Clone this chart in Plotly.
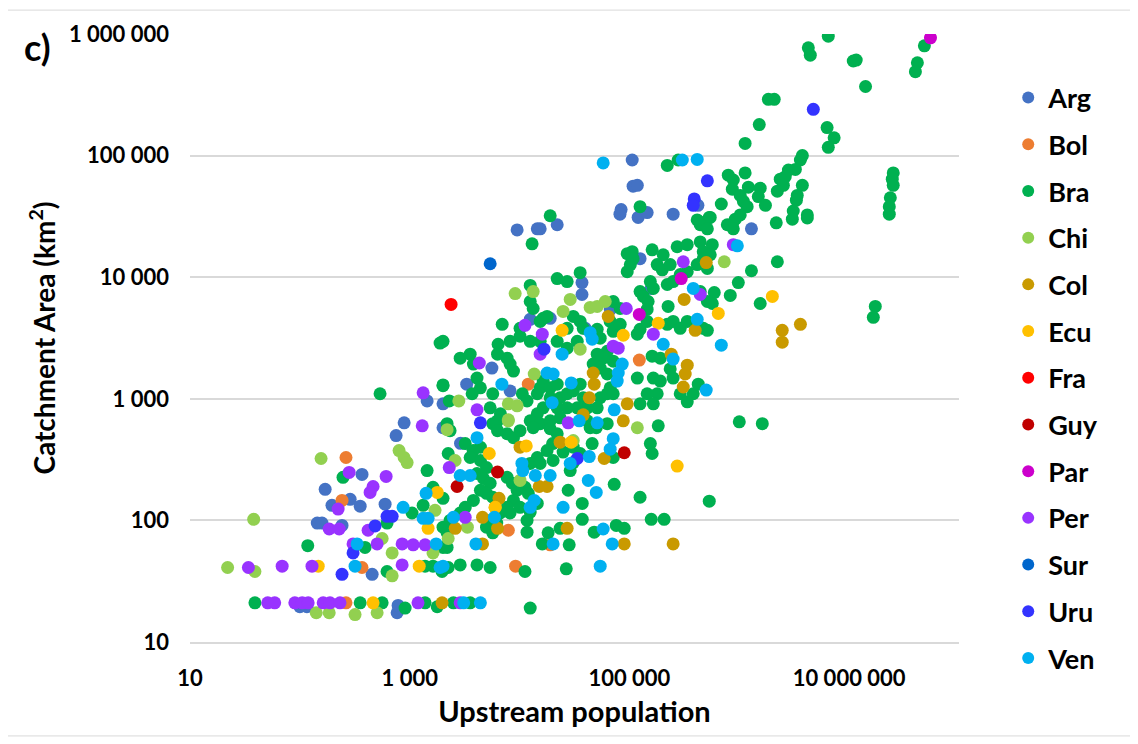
import plotly.graph_objects as go

# ---- data: (upstream population, catchment area km2) per country ----
COUNTRIES = ["Arg", "Bol", "Bra", "Chi", "Col", "Ecu", "Fra", "Guy", "Par", "Per", "Sur", "Uru", "Ven"]
COLORS = ["#4472C4", "#ED7D31", "#00B050", "#92D050", "#C99A00", "#FFC000", "#FF0000",
          "#C00000", "#CC00CC", "#9933FF", "#0066CC", "#3333FF", "#00B0F0"]

ARG = [(1.06e5, 9.2e4), (1.08e5, 5.6e4), (1.18e5, 5.7e4), (8.4e4, 3.6e4), (8.2e4, 3.3e4), (1.2e5, 3.1e4),
       (1.45e5, 3.4e4), (2.5e5, 3.3e4), (4.2e5, 3.9e4), (1.29e6, 2.5e4), (2.2e4, 2.7e4), (9500, 2.45e4),
       (1.45e4, 2.5e4), (1.54e4, 2.5e4), (3.7e4, 9040), (3.7e4, 7210), (6.7e4, 5430), (3300, 1320),
       (2900, 430), (1440, 960), (2010, 910), (890, 635), (2010, 578), (752, 498), (368, 239), (170, 180),
       (196, 133), (287, 149), (354, 131), (597, 136), (144, 95), (159, 95), (242, 91), (455, 36),
       (100, 19.5), (116, 19.5), (768, 17.4), (784, 20), (1.25e5, 1.42e4), (1.58e5, 8080), (3.96e4, 3800),
       (1.9e4, 4590), (1.25e4, 4500), (5600, 1790), (8200, 1160)]
BOL = [(263, 329), (242, 146), (368, 41), (263, 21), (1.23e5, 2080), (1.2e4, 1320), (7900, 83), (9200, 42),
       (1.9e4, 63)]
BRA = [(6.46e6, 9.6e5), (4.84e7, 8.0e5), (4.18e7, 5.8e5), (4.01e7, 4.9e5), (4.25e6, 7.7e5), (4.43e6, 6.7e5),
       (1.16e7, 6.1e5), (1.09e7, 6.0e5), (1.41e7, 3.7e5), (1.84e6, 2.9e5), (2.08e6, 2.9e5), (1.52e6, 1.8e5),
       (1.13e6, 1.26e5), (6.3e6, 1.7e5), (7.3e6, 1.4e5), (6.46e6, 1.17e5), (3.75e6, 1.0e5), (3.6e6, 9.2e4),
       (3.24e6, 7.7e4), (2.8e6, 7.6e4), (2.62e6, 6.7e4), (2.36e6, 6.4e4), (2.52e6, 5.7e4), (2.22e6, 5.1e4),
       (3.75e6, 5.7e4), (3.37e6, 4.7e4), (3.31e6, 4.3e4), (3.1e6, 3.5e4), (3.04e6, 3.0e4), (4.16e6, 3.25e4),
       (4.16e6, 3.07e4), (2.17e6, 2.8e4),
       (2.52e7, 7.2e4), (2.47e7, 6.4e4), (2.52e7, 5.7e4), (2.37e7, 4.5e4), (2.32e7, 3.8e4), (2.32e7, 3.3e4),
       (1.13e6, 7.2e4), (7.94e5, 6.9e4), (8.82e5, 6.3e4), (8.64e5, 5.3e4), (1.02e6, 4.7e4), (1.09e6, 4.2e4),
       (1.18e6, 3.8e4), (1.21e6, 5.5e4), (1.55e6, 5.4e4), (1.49e6, 4.6e4), (1.73e6, 3.9e4), (6.86e5, 4.0e4),
       (5.44e5, 3.1e4), (9.2e5, 3.0e4), (8.64e5, 2.74e4), (1.02e6, 3.25e4),
       (2.21e5, 8.3e4), (2.78e5, 9.2e4), (1.25e5, 3.8e4), (4.14e5, 2.96e4), (4.9e5, 2.85e4), (5.33e5, 3.1e4),
       (1.9e4, 3.2e4), (1.3e4, 1.88e4),
       (2.22e6, 1.34e4), (1.29e6, 1.13e4), (9.8e5, 9040), (5.92e5, 7480), (5.68e5, 6080), (8.28e5, 7080),
       (1.55e6, 6080), (5.12e5, 3660), (1.73e7, 5750), (1.66e7, 4680), (1.0e6, 647), (1.62e6, 624),
       (4.41e5, 2.7e4), (5.12e5, 2.5e4), (7.78e5, 2.7e4), (8.82e5, 2.5e4), (4.41e5, 1.95e4), (5.68e5, 1.85e4),
       (4.7e5, 1.62e4), (5.44e5, 1.53e4),
       (9.55e4, 1.56e4), (1.06e5, 1.62e4), (1.08e5, 1.42e4), (1.02e5, 1.27e4), (9.55e4, 1.11e4),
       (1.61e5, 1.68e4), (2.03e5, 1.53e4), (1.79e5, 1.27e4), (1.99e5, 1.15e4), (2.35e5, 1.27e4),
       (2.72e5, 1.78e4), (3.36e5, 1.85e4), (4.7e5, 1.42e4), (4.14e5, 1.27e4), (5.12e5, 1.18e4),
       (1.25e5, 7620), (1.34e5, 6950), (1.55e5, 9200), (1.65e5, 8080), (2.21e5, 8710), (2.5e5, 9200),
       (2.9e5, 1.05e4), (3.36e5, 1.11e4),
       (1.18e5, 3400), (1.25e5, 3730), (1.45e5, 4330), (2.21e5, 4100), (2.5e5, 4330), (2.9e5, 3800),
       (3.36e5, 4330), (4.7e5, 3800), (1.45e5, 5430), (1.48e5, 6310), (2.25e5, 5750), (1.61e5, 2240),
       (1.91e5, 2160), (2.35e5, 1760), (4.41e5, 7620), (5.12e5, 6310),
       (7.12e4, 6310), (8.24e4, 5530), (6.68e4, 4330), (7.12e4, 3590), (8.24e4, 4100), (3.08e4, 4760),
       (3.56e4, 4330), (2.71e4, 3800), (3.8e4, 3800), (5.09e4, 3730), (2.2e4, 9750), (2.71e4, 9200),
       (3.56e4, 1.09e4), (1.25e4, 8550), (1.25e4, 6310), (1.33e4, 5530), (1.54e4, 4330), (1.64e4, 4590),
       (1.78e4, 4760), (6950, 4100), (1.01e4, 3800), (1.01e4, 3270), (6380, 2810), (8200, 2970),
       (1.25e4, 2970), (1.54e4, 2970), (2.2e4, 2970), (2.71e4, 2610), (3.35e4, 2970), (5.42e4, 3150),
       (6.28e4, 2460), (7.12e4, 2040), (5.77e4, 2160), (5.09e4, 2330), (4.68e4, 1930), (5.42e4, 1790),
       (6.28e4, 1600),
       (2880, 2160), (3550, 2330), (3800, 1930), (4100, 1480), (4400, 1230), (3700, 1100), (2010, 1280),
       (2010, 2970), (5700, 1100), (5400, 843), (6700, 752), (6300, 659), (8200, 1930), (8800, 1690),
       (7700, 2160), (6300, 2330),
       (1.06e4, 1100), (1.17e4, 960), (1.45e4, 1100), (1.54e4, 1230), (1.64e4, 1400), (1.9e4, 1230),
       (2.2e4, 1320), (1.9e4, 1020), (2.34e4, 1020), (2.71e4, 1100), (3.08e4, 1160), (3.56e4, 1320),
       (3.8e4, 1020), (4.13e4, 843), (3.35e4, 843), (2.71e4, 843), (2.2e4, 843), (1.64e4, 843),
       (1.45e4, 752), (1.25e4, 659), (1.54e4, 624), (1.9e4, 659), (2.34e4, 698), (5.42e4, 1020),
       (5.09e4, 843), (6.28e4, 1100), (6.68e4, 1230), (7.12e4, 1100),
       (1.65e5, 1480), (1.79e5, 1100), (1.45e5, 1100), (1.25e5, 910), (1.65e5, 910), (1.91e5, 1400),
       (2.5e5, 1480), (1.18e5, 1480), (2.9e5, 1100), (3.81e5, 1100), (4.23e5, 1320), (3.36e5, 944),
       (1.83e5, 600), (5700, 624), (6300, 547), (4.13e4, 659), (4.39e4, 578), (2190, 624), (2330, 547),
       (3200, 428), (3780, 375), (4400, 400), (3550, 329), (4400, 311), (5000, 272), (4100, 243),
       (4700, 221), (5400, 202), (4400, 177), (5000, 167), (5700, 155), (3800, 146), (3200, 128),
       (2880, 115), (2330, 100), (2010, 88), (2190, 79), (2010, 60), (7700, 516), (8800, 479),
       (1.01e4, 547), (1.33e4, 578), (1.9e4, 567), (2.2e4, 516), (2.0e4, 428), (1.78e4, 375),
       (1.45e4, 329), (1.25e4, 294), (1.54e4, 294), (2.02e4, 311), (2.49e4, 365), (3.08e4, 400),
       (7700, 226), (8600, 202), (9500, 177), (8800, 146), (1.01e4, 128), (7700, 128), (8200, 115),
       (6660, 115), (5400, 100), (6200, 95), (5700, 79), (5000, 88), (1.12e4, 187), (1.2e4, 167),
       (1.45e4, 138), (1.25e4, 117), (1.17e4, 100), (2.89e4, 257), (3.08e4, 299), (3.56e4, 355),
       (2.77e4, 177), (3.72e4, 138), (3.72e4, 102), (2.83e4, 63), (2.66e4, 40), (4.58e4, 428),
       (4.99e4, 578), (6.28e4, 624), (7.12e4, 329), (1.55e5, 428), (1.61e5, 355), (1.17e4, 80),
       (1.61e4, 64), (1.82e4, 79), (2.34e4, 86), (4.78e4, 80), (7.59e4, 91), (8.97e4, 86), (1.58e5, 102),
       (2.07e5, 102), (1.25e5, 155), (7.27e4, 198), (5.33e5, 144), (2880, 43), (4100, 43), (5400, 41),
       (1.12e4, 38), (2500, 21), (3550, 21), (1.25e4, 19),
       (247, 226), (118, 62), (392, 60), (622, 38), (622, 95), (1325, 133), (1050, 115), (1440, 257),
       (1630, 187), (2010, 152), (2240, 355), (2330, 88), (2190, 60), (1970, 38), (2240, 41), (1380, 42),
       (1630, 42), (39, 21), (354, 21), (561, 21), (1380, 21), (1780, 19.5), (908, 19),
       (537, 1100), (1890, 2870), (2010, 1300), (2290, 960)]
CHI = [(38, 102), (22, 41), (39, 38), (156, 323), (800, 375), (889, 329), (947, 299), (2190, 557), (1700, 121),
       (561, 71), (692, 54), (1630, 54), (692, 35), (141, 17.4), (185, 17.4), (318, 16.8), (505, 17.4),
       (9120, 7340), (1.33e4, 7620), (2.89e4, 6570), (2.49e4, 5230), (4.39e4, 5640), (5.09e4, 5750),
       (6.02e4, 6310), (3.56e4, 2560), (1.36e4, 1600), (2800, 960), (7900, 910), (9500, 875), (7900, 672),
       (1.18e5, 578), (7.3e5, 1.34e4), (2240, 71), (2590, 311), (3350, 88), (1.01e4, 213), (3.08e4, 453),
       (7900, 659)]
COL = [(6.41e4, 4760), (3.15e5, 6570), (5.0e5, 1.32e4), (3.97e5, 3660), (2.4e5, 2330), (3.36e5, 1890),
       (3.22e5, 1600), (3.09e5, 1250), (4.68e4, 1630), (4.78e4, 1320), (4.31e4, 1020), (9.55e4, 910),
       (8.79e4, 659), (3.8e4, 738), (3.6e6, 4100), (2.46e6, 3660), (2.46e6, 2920), (5.89e4, 323),
       (1.51e4, 190), (1.78e4, 190), (6500, 152), (6000, 128), (4600, 106), (6300, 86), (2600, 86),
       (2.71e4, 86), (4600, 64), (8.97e4, 64), (2.5e5, 64), (1970, 21), (1.01e4, 400), (2.34e4, 440)]
ECU = [(1.83e5, 4180), (8.79e4, 3330), (2.44e4, 3660), (2.0e6, 6950), (6.44e5, 5040), (5300, 355),
       (1.15e4, 410), (2.95e4, 440), (2.72e5, 280), (1780, 170), (1470, 86), (147, 42), (1220, 42),
       (464, 21), (6000, 128)]
FRA = [(2380, 5970)]
GUY = [(8.97e4, 360), (6300, 250), (2700, 190)]
PAR = [(5.5e7, 9.3e5), (1.23e5, 4940), (2.96e5, 9750)]
PER = [(9.36e4, 5530), (1.65e5, 3400), (3.09e5, 1.34e4), (4.41e5, 7210), (1.12e4, 4020), (1.61e4, 3400),
       (1.54e4, 2330), (7.12e4, 2710), (7.91e4, 2610), (4300, 1970), (4100, 811), (2.77e4, 635),
       (8.82e5, 1.85e4), (1325, 1120), (1300, 600), (281, 248), (610, 230), (464, 190), (436, 170),
       (223, 124), (185, 85), (228, 85), (418, 83), (305, 64), (505, 64), (853, 64), (1075, 63), (1380, 63),
       (34, 41), (69, 42), (129, 42), (853, 43), (2290, 272), (3200, 106), (2880, 21), (51, 21), (59, 21),
       (90, 21), (105, 21), (119, 21), (163, 21), (188, 21), (232, 21), (1190, 21)]
SUR = [(5400, 1.29e4)]
URU = [(4.72e6, 2.4e5), (5.12e5, 6.2e4), (3.89e5, 4.4e4), (3.81e5, 3.9e4), (1.67e4, 2560), (4400, 635),
       (3.35e4, 323), (484, 90), (622, 108), (692, 108), (305, 54), (242, 36)]
VEN = [(5.77e4, 8.7e4), (3.03e5, 9.2e4), (4.14e5, 9.3e4), (3.81e5, 8080), (4.14e5, 4500), (2.03e5, 2810),
       (2.5e5, 2120), (5.0e5, 1180), (6.86e5, 2760), (9.6e5, 1.81e4), (4.39e4, 3500), (4.58e4, 3090),
       (2.44e4, 2330), (6900, 1320), (1.78e4, 1630), (2.02e4, 1600), (2.95e4, 1350), (8.6e4, 1930),
       (7.91e4, 1630), (7.74e4, 1400), (1.98e4, 930), (7.27e4, 811), (3.49e4, 659), (5.09e4, 635),
       (4100, 479), (7.12e4, 470), (6.68e4, 385), (4.31e4, 335), (2.89e4, 294), (2880, 234), (3550, 234),
       (1.07e4, 257), (1.05e4, 294), (1.39e4, 234), (1.9e4, 234), (4.22e4, 213), (4.99e4, 170),
       (1.36e4, 146), (1.25e4, 128), (2.49e4, 128), (5900, 106), (2500, 106), (5.77e4, 85), (2.02e4, 64),
       (6.97e4, 64), (4000, 64), (5.42e4, 42), (2010, 42), (3100, 21), (4400, 21), (1410, 167), (871, 128),
       (1325, 104), (1470, 104), (332, 64), (1740, 64), (318, 42), (1890, 41)]

SERIES = [ARG, BOL, BRA, CHI, COL, ECU, FRA, GUY, PAR, PER, SUR, URU, VEN]

X_TICKS = [10, 1e3, 1e5, 1e7]
X_LABELS = ["10", "1 000", "100 000", "10 000 000"]
Y_TICKS = [10, 100, 1e3, 1e4, 1e5, 1e6]
Y_LABELS = ["10", "100", "1 000", "10 000", "100 000", "1 000 000"]

FONT = "Lato"

fig = go.Figure()
for name, color, pts in zip(COUNTRIES, COLORS, SERIES):
    fig.add_trace(go.Scatter(
        x=[p[0] for p in pts], y=[p[1] for p in pts], mode="markers", name=name,
        legendgroup=name,
        marker=dict(color=color, size=13, line=dict(width=0)),
    ))

fig.update_layout(
    width=1138, height=744,
    margin=dict(l=182, r=187, t=23, b=110),
    paper_bgcolor="white", plot_bgcolor="white",
    font=dict(family=FONT, color="black"),
    showlegend=True,
    legend=dict(
        x=1.064, xanchor="left", y=0.935, yanchor="top",
        font=dict(family=FONT, size=27, color="black", weight="bold"),
        itemsizing="constant", tracegroupgap=8.6, bgcolor="rgba(0,0,0,0)",
        maxheight=730,
    ),
    xaxis=dict(
        type="log", range=[1, 8], tickvals=X_TICKS, ticktext=X_LABELS,
        showgrid=False, zeroline=False, showline=True, linecolor="#D9D9D9", linewidth=1.5,
        ticks="", ticklabelstandoff=16,
        tickfont=dict(family=FONT, size=22, color="black", weight="bold"),
        title=dict(text="<b>Upstream population</b>", font=dict(family=FONT, size=29, color="black"),
                   standoff=12),
    ),
    yaxis=dict(
        type="log", range=[1, 6], tickvals=Y_TICKS, ticktext=Y_LABELS,
        showgrid=True, gridcolor="#D9D9D9", gridwidth=1.5, zeroline=False, showline=False,
        ticks="", ticklabelstandoff=20,
        tickfont=dict(family=FONT, size=22, color="black", weight="bold"),
        title=dict(text="<b>Catchment Area (km<sup>2</sup>)</b>", font=dict(family=FONT, size=28, color="black"),
                   standoff=5),
    ),
    annotations=[dict(text="<b>c)</b>", x=-0.198, y=0.978, xref="paper", yref="paper",
                      xanchor="center", yanchor="middle", showarrow=False,
                      font=dict(family=FONT, size=36, color="black"))],
    shapes=[dict(type="rect", xref="paper", yref="paper", x0=-0.238, x1=1.2237, y0=-0.1545, y1=1.0393,
                 line=dict(color="#D9D9D9", width=1), layer="below")],
)

fig.write_html("out.html")
